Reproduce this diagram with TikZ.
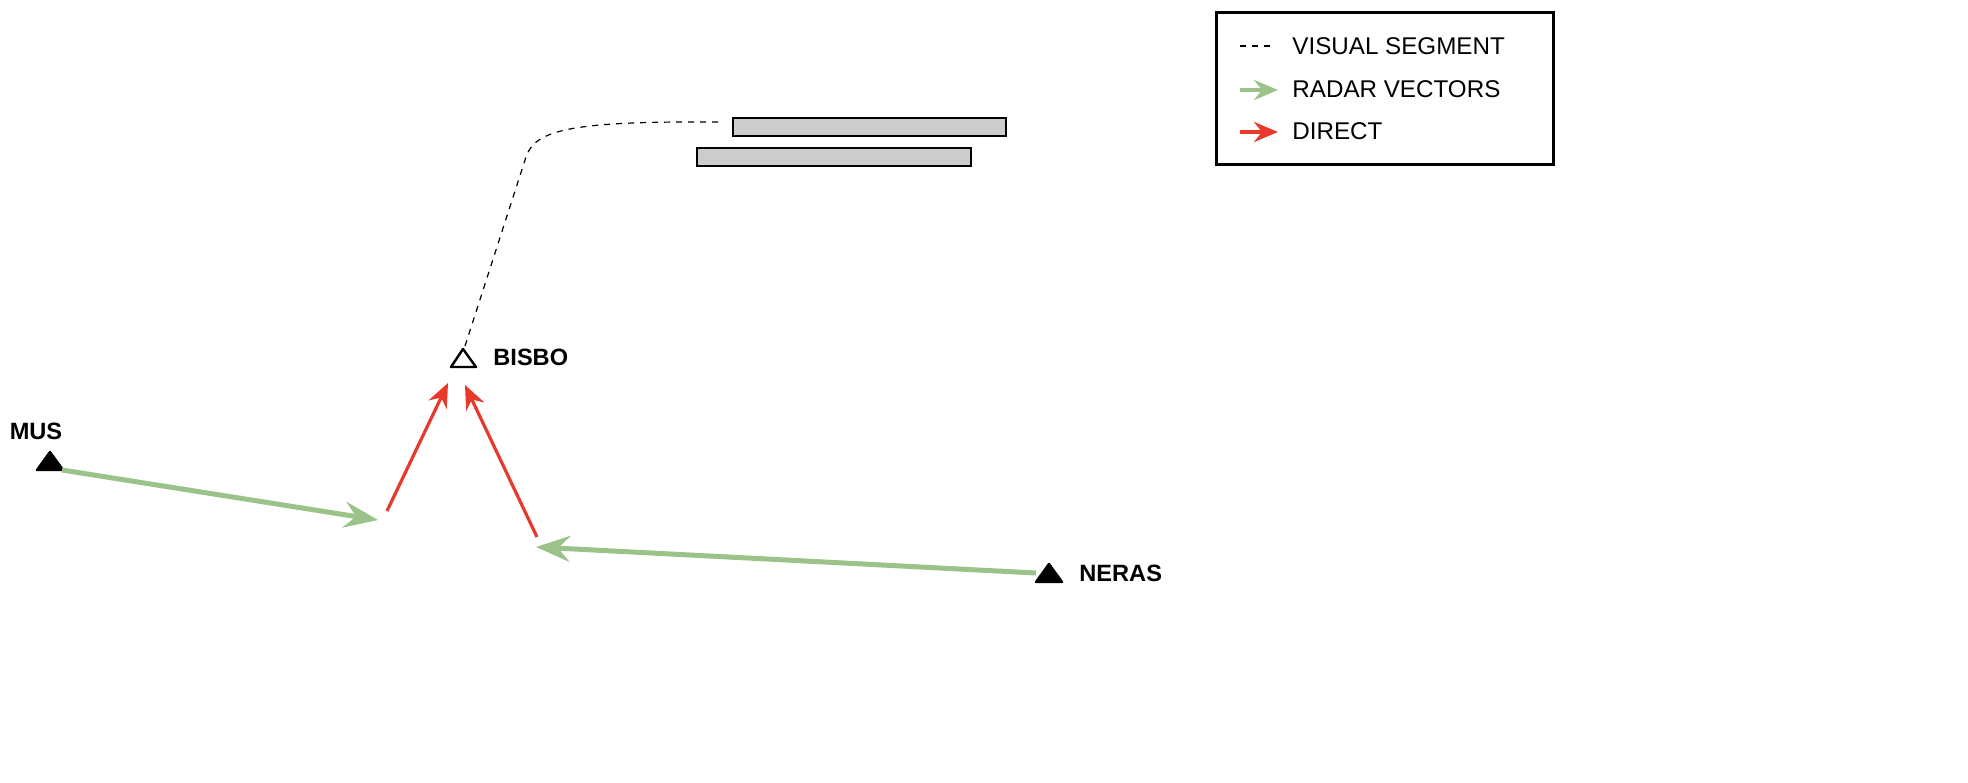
\documentclass[tikz,border=0pt]{standalone}
\usepackage{fontspec}
\setmainfont{Liberation Sans}
\usetikzlibrary{arrows.meta}
\definecolor{grn}{HTML}{9BC288}
\definecolor{rd}{HTML}{E8392A}
\tikzset{
  gvec/.style={grn, line width=2.5pt, -{Stealth[length=17pt,width=13pt,inset=6pt]}},
  rvec/.style={rd, line width=1.6pt, -{Stealth[length=12pt,width=10pt,inset=4pt]}},
  lbl/.style={font=\bfseries\fontsize{11.8}{14}\selectfont, anchor=west, inner sep=0},
  leg/.style={font=\fontsize{12.1}{14}\selectfont, anchor=west, inner sep=0},
  rwy/.style={draw, fill=black!20, line width=0.6pt},
  fix/.style={line width=1.2pt, line join=round},
}
\begin{document}
\begin{tikzpicture}[x=0.5pt,y=-0.5pt]
\useasboundingbox (0,0) rectangle (1968,782);
% legend
\draw[line width=1.5pt] (1216,12) rectangle (1553,164);
\coordinate (l1a) at (1240,46); \coordinate (l1b) at (1274,46);
\draw[dashed, line width=0.6pt] (l1a) -- (l1b);
\node[leg] at (1292,46) {VISUAL SEGMENT};
\coordinate (l2a) at (1240,90); \coordinate (l2b) at (1278,90);
\draw[grn, line width=2pt, -{Stealth[length=12pt,width=10pt,inset=4pt]}] (l2a) -- (l2b);
\node[leg] at (1292,89) {RADAR VECTORS};
\coordinate (l3a) at (1240,132); \coordinate (l3b) at (1278,132);
\draw[rd, line width=2pt, -{Stealth[length=12pt,width=10pt,inset=4pt]}] (l3a) -- (l3b);
\node[leg] at (1292,131) {DIRECT};
% runways
\draw[rwy] (733,118) rectangle (1006,136);
\draw[rwy] (697,148) rectangle (971,166);
% fixes
\draw[fix] (451,367) -- (463,349) -- (476,367) -- cycle;
\coordinate (bisbo) at (465,346);
\node[lbl] (bl) at (493,357) {BISBO};
\draw[fix, fill=black] (37,470) -- (50,452) -- (63,470) -- cycle;
\node[lbl, anchor=center] (ml) at (36,431) {MUS};
\draw[fix, fill=black] (1036,582) -- (1049,564) -- (1062,582) -- cycle;
\node[lbl] (nl) at (1079,573) {NERAS};
% visual segment
\coordinate (vs) at (718,122);
\draw[dashed, line width=0.6pt] (bisbo) -- (526,157) .. controls (535,130) and (570,121) .. (vs);
% vectors
\coordinate (m0) at (62,470); \coordinate (m1) at (378,520);
\draw[gvec] (m0) -- (m1);
\coordinate (n0) at (1036,573); \coordinate (n1) at (536,547);
\draw[gvec] (n0) -- (n1);
\coordinate (r1a) at (387,511); \coordinate (r1b) at (448,383);
\draw[rvec] (r1a) -- (r1b);
\coordinate (r2a) at (537,537); \coordinate (r2b) at (465,385);
\draw[rvec] (r2a) -- (r2b);
\end{tikzpicture}
\end{document}
